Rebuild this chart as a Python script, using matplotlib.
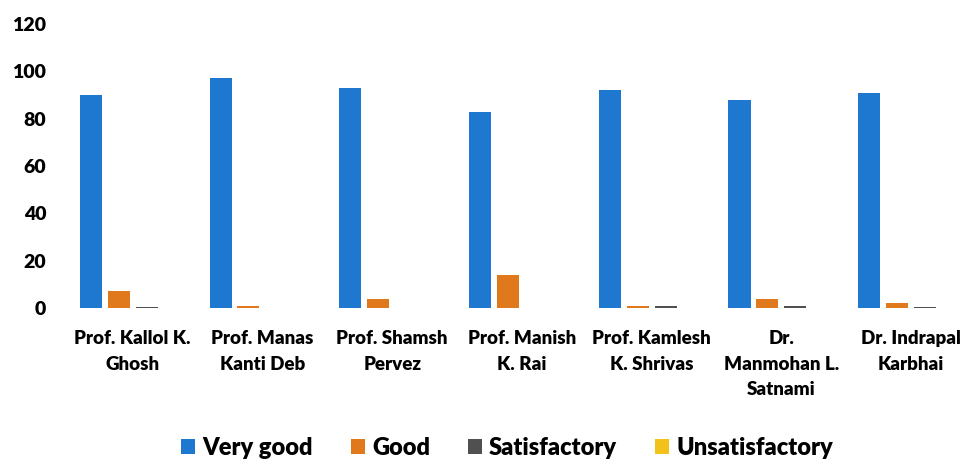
import matplotlib.pyplot as plt
import numpy as np

# categorias (professores) e valores por série
teachers = ["Prof. Kallol K.\nGhosh", "Prof. Manas\nKanti Deb", "Prof. Shamsh\nPervez",
            "Prof. Manish\nK. Rai", "Prof. Kamlesh\nK. Shrivas", "Dr.\nManmohan L.\nSatnami",
            "Dr. Indrapal\nKarbhai"]
very_good = [90, 97, 93, 83, 92, 88, 91]
good = [7, 1, 4, 14, 1, 4, 2]
satisfactory = [0.3, 0, 0, 0, 1, 1, 0.5]
unsatisfactory = [0, 0, 0, 0, 0, 0, 0]

series_names = ["Very good", "Good", "Satisfactory", "Unsatisfactory"]
series_vals = [very_good, good, satisfactory, unsatisfactory]
colors = ["#1e78d0", "#e0781c", "#505050", "#f2c21a"]

plt.rcParams['font.family'] = ['Lato', 'DejaVu Sans']

fig = plt.figure(figsize=(9.71, 4.62), dpi=100)
ax = fig.add_axes([60 / 971, 154 / 462, 890 / 971, 284 / 462])

x = np.arange(len(teachers))
step = 0.215
width = 0.17
for i, (name, vals, c) in enumerate(zip(series_names, series_vals, colors)):
    ax.bar(x + (i - 1.5) * step, vals, width, color=c, label=name)

ax.set_ylim(0, 120)
ax.set_xlim(-0.56, 6.3)
ax.set_yticks(range(0, 121, 20))
ax.set_xticks(x)
ax.set_xticklabels(teachers, fontsize=13.5, fontweight='heavy', linespacing=1.6)
for lab in ax.get_yticklabels():
    lab.set_fontweight('heavy')
ax.tick_params(axis='y', labelsize=14, length=0, pad=10)
ax.tick_params(axis='x', length=0, pad=16)
for s in ax.spines.values():
    s.set_visible(False)

ax.legend(loc='center', bbox_to_anchor=(507 / 971, 14 / 462), bbox_transform=fig.transFigure,
          ncol=4, frameon=False, prop={'size': 17, 'weight': 'heavy'},
          handlelength=0.6, handleheight=0.6, handletextpad=0.3, columnspacing=1.6)

fig.savefig("out.png", dpi=100)
